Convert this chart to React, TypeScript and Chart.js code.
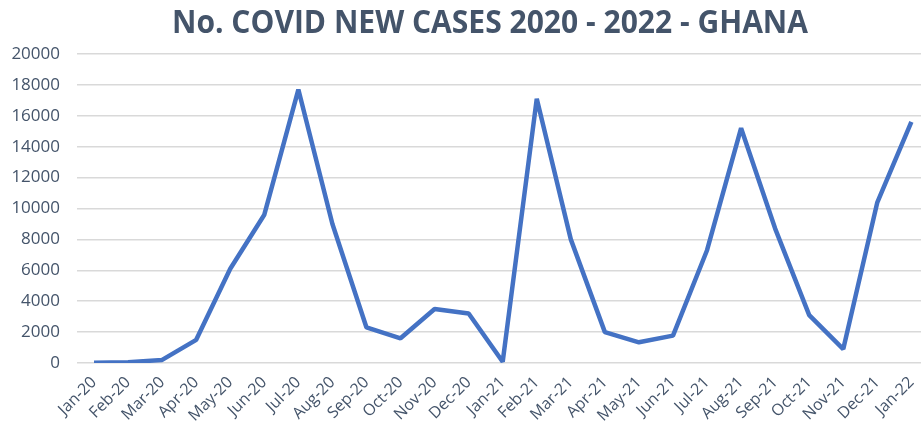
import React, { useEffect, useRef } from "react";
import { Chart, registerables } from "chart.js";

Chart.register(...registerables);

const TITLE = "No. COVID NEW CASES 2020 - 2022 - GHANA";

const months: string[] = [
  "Jan-20", "Feb-20", "Mar-20", "Apr-20", "May-20", "Jun-20", "Jul-20", "Aug-20",
  "Sep-20", "Oct-20", "Nov-20", "Dec-20", "Jan-21", "Feb-21", "Mar-21", "Apr-21",
  "May-21", "Jun-21", "Jul-21", "Aug-21", "Sep-21", "Oct-21", "Nov-21", "Dec-21", "Jan-22",
];

const newCases: number[] = [
  10, 50, 200, 1500, 6100, 9600, 17700, 9000, 2300, 1600, 3500, 3200, 80,
  17100, 8000, 2000, 1340, 1770, 7300, 15200, 8700, 3100, 900, 10400, 15600,
];

const yTicks: number[] = [0, 2000, 4000, 6000, 8000, 10000, 12000, 14000, 16000, 18000, 20000];

const TEXT = "#44546A";
const GRID = "#D9D9D9";
const LINE = "#4472C4";

const titlePlugin = {
  id: "customTitle",
  afterDraw(chart: any) {
    const ctx = chart.ctx as CanvasRenderingContext2D;
    ctx.save();
    ctx.font = "bold 32px 'Open Sans', sans-serif";
    ctx.fillStyle = TEXT;
    ctx.textAlign = "center";
    ctx.textBaseline = "middle";
    ctx.fillText(TITLE, 490, 24, 636);
    ctx.restore();
  },
};

export default function App() {
  const ref = useRef<HTMLCanvasElement | null>(null);

  useEffect(() => {
    if (!ref.current) return;
    const chart = new Chart(ref.current, {
      type: "line",
      data: {
        labels: months,
        datasets: [
          {
            label: "New cases",
            data: newCases,
            borderColor: LINE,
            backgroundColor: LINE,
            borderWidth: 4.5,
            pointRadius: 0,
            tension: 0,
            borderJoinStyle: "bevel",
          },
        ],
      },
      options: {
        responsive: false,
        animation: false,
        devicePixelRatio: 1,
        layout: { padding: { top: 54, left: 0, right: 2, bottom: 0 } },
        plugins: {
          legend: { display: false },
          title: { display: false },
          tooltip: { enabled: false },
        },
        scales: {
          x: {
            offset: true,
            grid: { display: false, drawTicks: false },
            border: { display: false },
            ticks: {
              color: TEXT,
              font: { family: "'Open Sans', sans-serif", size: 16 },
              minRotation: 45,
              maxRotation: 45,
              autoSkip: false,
              padding: 10,
            },
            afterFit: (scale: any) => {
              scale.height = 71;
            },
          },
          y: {
            min: 0,
            max: 20000,
            afterBuildTicks: (scale: any) => {
              scale.ticks = yTicks.map((v) => ({ value: v }));
            },
            grid: { color: GRID, lineWidth: 1.5, drawTicks: false },
            border: { display: false },
            ticks: {
              color: TEXT,
              font: { family: "'Open Sans', sans-serif", size: 17 },
              padding: 17,
              callback: (value: any) => String(value),
            },
            afterFit: (scale: any) => {
              scale.width = 77;
            },
          },
        },
      },
      plugins: [titlePlugin],
    });
    return () => chart.destroy();
  }, []);

  return (
    <div
      style={{
        position: "fixed",
        left: 0,
        top: 0,
        width: 921,
        height: 434,
        overflow: "hidden",
        background: "#fff",
      }}
    >
      <canvas ref={ref} width={935} height={434} style={{ display: "block" }} />
    </div>
  );
}
